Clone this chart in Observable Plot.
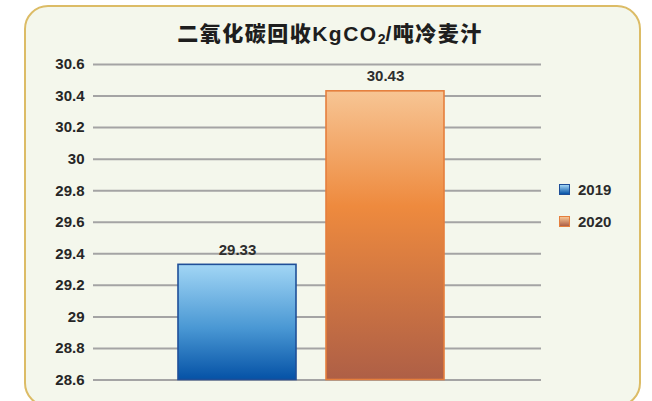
<!DOCTYPE html>
<html><head><meta charset="utf-8">
<script src="https://cdn.jsdelivr.net/npm/d3@7"></script>
<script src="https://cdn.jsdelivr.net/npm/@observablehq/plot@0.6"></script>
<style>
body{margin:0;background:#fff;}
#wrap{position:relative;width:652px;height:401px;overflow:hidden;font-family:"Liberation Sans",Arial,sans-serif;}
#panel{position:absolute;left:24px;top:5px;width:617px;height:402px;border:2px solid #dcbc66;border-radius:24px;background:#f4f7ec;box-sizing:border-box;}
#title{position:relative;height:50px;box-sizing:border-box;padding:22px 0 0 8px;text-align:center;line-height:24px;font-size:21px;font-weight:900;color:#1e1e1e;font-family:"Liberation Sans","Noto Sans CJK SC",sans-serif;letter-spacing:1.5px;}
#title sub{font-size:14px;vertical-align:-3px;line-height:0;letter-spacing:0;}
#chart{position:relative;}
#legend{position:absolute;left:559px;top:182px;font-weight:700;font-size:15px;color:#2b2b2b;}
.row{display:flex;align-items:center;height:14px;margin-bottom:18px;}
.sw{width:11px;height:11px;box-sizing:border-box;margin-right:8px;}
</style></head>
<body>
<div id="wrap">
  <div id="panel"></div>
  <div id="title">二氧化碳回收KgCO<sub>2</sub>/吨冷麦汁</div>
  <div id="chart"></div>
  <div id="legend"></div>
</div>
<script>
const years = ["2019", "2020"];
const values = [29.33, 30.43];
const valueLabels = ["29.33", "30.43"];
const yTicks = [28.6, 28.8, 29, 29.2, 29.4, 29.6, 29.8, 30, 30.2, 30.4, 30.6];
const tickLabels = ["28.6", "28.8", "29", "29.2", "29.4", "29.6", "29.8", "30", "30.2", "30.4", "30.6"];
const yDomain = [28.6, 30.6];

const gradients = {
  "2019": {stroke: "#1f4f98", stops: [["0%", "#a2d6f5"], ["55%", "#4a98d4"], ["100%", "#0552a6"]]},
  "2020": {stroke: "#e57f3d", stops: [["0%", "#f7c594"], ["40%", "#ee8a3e"], ["100%", "#ae5f46"]]}
};

const data = years.map((y, i) => ({year: y, value: values[i], label: valueLabels[i]}));

const chart = Plot.plot({
  width: 652,
  height: 351,
  marginTop: 14,
  marginBottom: 21.5,
  marginLeft: 93,
  marginRight: 111,
  style: {background: "transparent", fontFamily: "Liberation Sans, Arial, sans-serif"},
  x: {type: "band", domain: years, paddingInner: 0.2, paddingOuter: 0.61, align: 0.47, axis: null},
  y: {domain: yDomain, axis: null},
  color: {type: "identity"},
  marks: [
    Plot.ruleY(yTicks, {stroke: "#a4a4a4", strokeWidth: 2}),
    Plot.axisY(yTicks, {tickSize: 0, tickPadding: 9, tickFormat: d => tickLabels[yTicks.indexOf(d)], fontSize: 15, fontWeight: "bold", color: "#262626", label: null}),
    Plot.barY(data, {x: "year", y1: yDomain[0], y2: "value", fill: d => `url(#g${d.year})`, stroke: d => gradients[d.year].stroke, strokeWidth: 1.6}),
    Plot.text(data, {x: "year", y: "value", text: "label", dy: -15, fontSize: 15, fontWeight: "bold", fill: "#2e2e2e"})
  ]
});

const defs = d3.select(chart).insert("defs", ":first-child");
for (const y of years) {
  const g = defs.append("linearGradient").attr("id", "g" + y).attr("x1", 0).attr("y1", 0).attr("x2", 0).attr("y2", 1);
  for (const [o, c] of gradients[y].stops) g.append("stop").attr("offset", o).attr("stop-color", c);
}
document.getElementById("chart").appendChild(chart);

const legend = d3.select("#legend");
for (const y of years) {
  const gr = gradients[y];
  const row = legend.append("div").attr("class", "row");
  row.append("div").attr("class", "sw")
    .style("background", `linear-gradient(${gr.stops[0][1]}, ${gr.stops[2][1]})`)
    .style("border", `1.5px solid ${gr.stroke}`);
  row.append("span").text(y);
}
</script>
</body></html>
